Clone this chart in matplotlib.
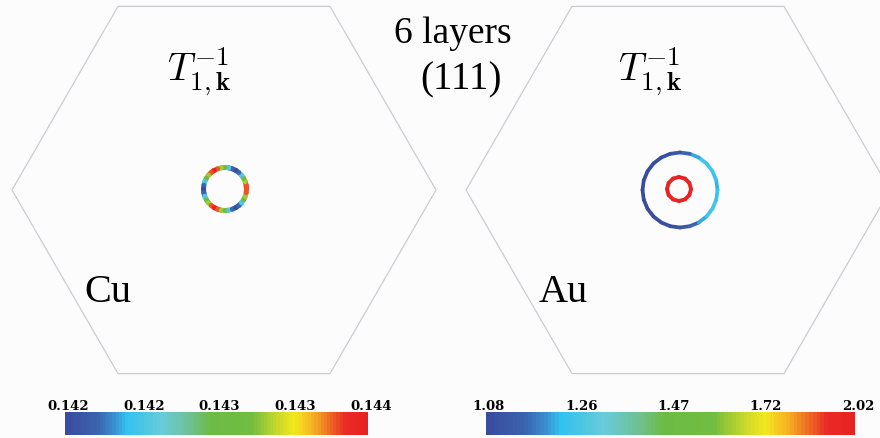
import numpy as np
import matplotlib
matplotlib.use("Agg")
import matplotlib.pyplot as plt
from matplotlib.colors import LinearSegmentedColormap, Normalize, LogNorm
from matplotlib.collections import LineCollection
from matplotlib.patches import RegularPolygon
from matplotlib.colorbar import ColorbarBase

plt.rcParams["mathtext.fontset"] = "cm"

# --- data -------------------------------------------------------------
# angle around each Fermi-surface contour (degrees) and T^-1 value there
cu_angles = list(range(0, 360, 10))
cu_values = [0.1436, 0.1434, 0.1430, 0.1427, 0.1423, 0.1420,
             0.1418, 0.1420, 0.1423, 0.1427, 0.1430, 0.1434,
             0.1436, 0.1434, 0.1430, 0.1427, 0.1423, 0.1420,
             0.1418, 0.1420, 0.1423, 0.1427, 0.1430, 0.1434,
             0.1436, 0.1434, 0.1430, 0.1427, 0.1423, 0.1420,
             0.1418, 0.1420, 0.1423, 0.1427, 0.1430, 0.1434]

au_outer_angles = list(range(0, 360, 15))
au_outer_values = [1.22, 1.24, 1.26, 1.25, 1.21, 1.16, 1.12, 1.10,
                   1.09, 1.08, 1.08, 1.08, 1.08, 1.08, 1.08, 1.08,
                   1.09, 1.10, 1.12, 1.16, 1.21, 1.25, 1.26, 1.24]

au_inner_angles = list(range(0, 360, 30))
au_inner_values = [1.98, 2.00, 2.02, 2.00, 1.97, 1.99,
                   2.02, 2.00, 1.97, 1.99, 2.02, 2.00]

cu_range = (0.1418, 0.1436)
au_range = (1.08, 2.02)
cu_tick_labels = ["0.142", "0.142", "0.143", "0.143", "0.144"]
au_tick_labels = ["1.08", "1.26", "1.47", "1.72", "2.02"]

# --- colour map -------------------------------------------------------
cmap = LinearSegmentedColormap.from_list("bz", [
    (0.00, "#3a4c9e"), (0.10, "#3a62ae"), (0.16, "#3a90d0"),
    (0.20, "#32c2ef"), (0.32, "#68cbd9"), (0.42, "#6fc08c"),
    (0.48, "#6cbb45"), (0.62, "#72bd40"), (0.70, "#c6d82c"),
    (0.76, "#f3e81e"), (0.82, "#f6b223"), (0.87, "#ef7423"),
    (0.93, "#e92a25"), (1.00, "#e82222")], N=96)

bg = "#fcfcfd"
fig = plt.figure(figsize=(8.8, 4.39), dpi=100, facecolor=bg)
ax = fig.add_axes([0, 0, 1, 1])
ax.set_xlim(0, 880)
ax.set_ylim(439, 0)
ax.set_aspect("equal")
ax.axis("off")
ax.set_facecolor(bg)

R = 212
centres = [(224, 191), (678, 191)]
for cx, cy in centres:
    ax.add_patch(RegularPolygon((cx, cy), 6, radius=R, orientation=np.pi / 6,
                                fill=False, ec="#c9cdd2", lw=0.9))


def ring(cx, cy, rad, angles, values, norm, lw):
    th = np.deg2rad(np.array(angles + [angles[0] + 360]))
    xs = cx + rad * np.cos(th)
    ys = cy - rad * np.sin(th)
    pts = np.column_stack([xs, ys])
    segs = np.stack([pts[:-1], pts[1:]], axis=1)
    lc = LineCollection(segs, cmap=cmap, norm=norm, linewidths=lw,
                        capstyle="round")
    lc.set_array(np.array(values))
    ax.add_collection(lc)


cu_norm = Normalize(*cu_range)
au_norm = LogNorm(*au_range)
ring(225, 190, 21.5, cu_angles, cu_values, cu_norm, 3.6)
ring(680, 191, 37.5, au_outer_angles, au_outer_values, au_norm, 2.7)
ring(679, 190, 12, au_inner_angles, au_inner_values, au_norm, 2.8)

# labels
title = r"$T^{-1}_{1,\mathbf{k}}$"
ax.text(199, 72, title, fontsize=28, ha="center", va="center")
ax.text(650, 72, title, fontsize=28, ha="center", va="center")
serif = "Liberation Serif"
ax.text(453, 34, "6 layers", fontsize=27, family=serif, ha="center", va="center")
ax.text(461, 80, "(111)", fontsize=28, family=serif, ha="center", va="center")
ax.text(108, 293, "Cu", fontsize=29, family=serif, ha="center", va="center")
ax.text(563, 293, "Au", fontsize=29, family=serif, ha="center", va="center")

# colour bars
W, H = 880.0, 439.0
for (x0, x1), norm, labels in [((65, 368), cu_norm, cu_tick_labels),
                               ((486, 855), au_norm, au_tick_labels)]:
    cax = fig.add_axes([x0 / W, 1 - 436 / H, (x1 - x0) / W, 23 / H])
    cb = ColorbarBase(cax, cmap=cmap, norm=norm, orientation="horizontal")
    cb.outline.set_visible(False)
    cax.set_xticks([])
    cax.xaxis.set_minor_locator(matplotlib.ticker.NullLocator())
    for i, lab in enumerate(labels):
        xp = x0 + (x1 - x0) * i / (len(labels) - 1) + 3
        ax.text(xp, 407, lab, fontsize=9.5, family="DejaVu Serif",
                weight="bold", ha="center", va="center")

fig.savefig("out.png", dpi=100, facecolor=bg)
